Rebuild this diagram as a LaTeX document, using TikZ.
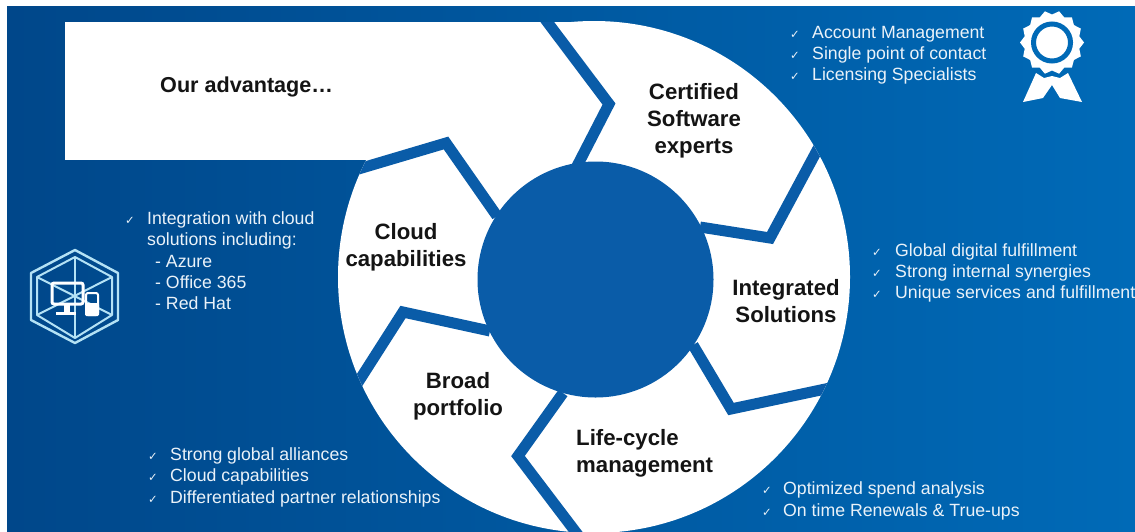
\documentclass[tikz,border=0pt]{standalone}
\usepackage{fontspec}
\setmainfont{Liberation Sans}
\newfontfamily\symfont{DejaVu Sans}
\definecolor{bgleft}{HTML}{00478A}
\definecolor{bgmid}{HTML}{00589F}
\definecolor{bgright}{HTML}{006AB7}
\definecolor{sepblue}{HTML}{0A5CA8}
\definecolor{listtext}{HTML}{EAF2F9}
\definecolor{iconline}{HTML}{B4E2F5}
\tikzset{
  seg/.style={draw=sepblue,line width=11pt,line join=miter,line cap=butt},
  lbl/.style={font=\fontsize{22.2}{27}\selectfont\bfseries,text=black!92,align=center,inner sep=0pt},
  lblleft/.style={lbl,align=left},
  item/.style={font=\fontsize{17.7}{21.3}\selectfont,text=listtext,anchor=base west,inner sep=0pt,align=left},
  chk/.style={font=\fontsize{11.5}{12}\selectfont\symfont,text=listtext,anchor=base,inner sep=0pt},
  hexline/.style={draw=iconline,line width=2pt,line join=round},
}
\begin{document}
\begin{tikzpicture}[x=1pt,y=-1pt]
\useasboundingbox (0,0) rectangle (1135,531);
\fill[white] (0,0) rectangle (1135,531);
% background
\shade[left color=bgleft,middle color=bgmid,right color=bgright] (7,6) rectangle (1135,531);
% white wheel and arrow
\fill[white] (594,277) circle (256pt);
\fill[white] (65,22) rectangle (600,160);
% separators
\begin{scope}
\clip (65,22) rectangle (700,300);
\draw[seg] (545,19) -- (609,104) -- (574,172);
\end{scope}
\begin{scope}
\clip (594,277) circle (256pt);
\draw[seg] (821,143) -- (770,238) -- (700,227);
\draw[seg] (693,345) -- (731,409) -- (830,388);
\draw[seg] (563,393) -- (518,456) -- (581,539);
\draw[seg] (490,331) -- (403,312) -- (357,384);
\draw[seg] (497,216) -- (446,143) -- (355,170);
\end{scope}
% hub
\fill[sepblue] (595.5,279.5) circle (118pt);
% wheel labels
\node[lbl] (certified) at (694,120.5) {Certified\\Software\\experts};
\node[lbl] (integrated) at (786,301.5) {Integrated\\Solutions};
\node[lblleft,anchor=west] (lifecycle) at (576,453) {Life-cycle\\management};
\node[lbl] (broad) at (458,396) {Broad\\portfolio};
\node[lbl] (cloudcap) at (406,247) {Cloud\\capabilities};
\node[lbl,anchor=west,font=\fontsize{21.6}{25}\selectfont\bfseries] (advantage) at (160,87) {Our advantage…};
% top right list
\node[chk] (c1) at (795,38) {✓};
\node[chk] (c2) at (795,59) {✓};
\node[chk] (c3) at (795,80) {✓};
\node[item] (t1) at (812,38) {Account Management};
\node[item] (t2) at (812,59) {Single point of contact};
\node[item] (t3) at (812,80) {Licensing Specialists};
% right list
\node[chk] (c4) at (877,256) {✓};
\node[chk] (c5) at (877,277) {✓};
\node[chk] (c6) at (877,298) {✓};
\node[item] (t4) at (895,256) {Global digital fulfillment};
\node[item] (t5) at (895,277) {Strong internal synergies};
\node[item] (t6) at (895,298) {Unique services and fulfillment};
% left list
\node[chk] (c7) at (130,224) {✓};
\node[item] (t7) at (147,224) {Integration with cloud};
\node[item] (t8) at (147,245) {solutions including:};
\node[item] (t9) at (155,267) {- Azure};
\node[item] (t10) at (155,288) {- Office 365};
\node[item] (t11) at (155,309) {- Red Hat};
% bottom left list
\node[chk] (c12) at (153,460) {✓};
\node[chk] (c13) at (153,481) {✓};
\node[chk] (c14) at (153,503) {✓};
\node[item] (t12) at (170,460) {Strong global alliances};
\node[item] (t13) at (170,481) {Cloud capabilities};
\node[item] (t14) at (170,503) {Differentiated partner relationships};
% bottom right list
\node[chk] (c15) at (767,494) {✓};
\node[chk] (c16) at (767,516) {✓};
\node[item] (t15) at (783,494) {Optimized spend analysis};
\node[item] (t16) at (783,516) {On time Renewals \& True-ups};
% hexagon icon
\draw[hexline,line width=2.4pt] (75,250) -- (118,273) -- (118,320) -- (75,343) -- (31,320) -- (31,273) -- cycle;
\draw[hexline] (75,257) -- (112,277) -- (112,315) -- (75,338) -- (37,315) -- (37,277) -- cycle;
\draw[hexline] (75,257) -- (75,338);
\draw[hexline] (37,277) -- (112,315);
\draw[hexline] (112,277) -- (37,315);
\draw[white,line width=3pt,rounded corners=2pt] (52,283) rectangle (83,304);
\fill[white] (64,304) rectangle (70,312);
\fill[white] (56,312) rectangle (76,315);
\draw[white,line width=2pt,rounded corners=2pt] (86,293) rectangle (98,315);
\fill[white,rounded corners=1.5pt] (85,303) rectangle (99,316);
% rosette icon
\fill[white] (1036,73) -- (1023,102) -- (1043,98) -- (1052,85) -- (1060,98) -- (1082,102) -- (1068,73)
  -- (1060,78) -- (1052,76) -- (1044,78) -- cycle;
\fill[white,shift={(1052,42.5)}]
  plot[samples=29,domain=0:360] (\x:{30+2*cos(14*\x)}) -- cycle;
\draw[bgright,line width=5pt] (1052,42.5) circle (18.5pt);
\end{tikzpicture}
\end{document}
